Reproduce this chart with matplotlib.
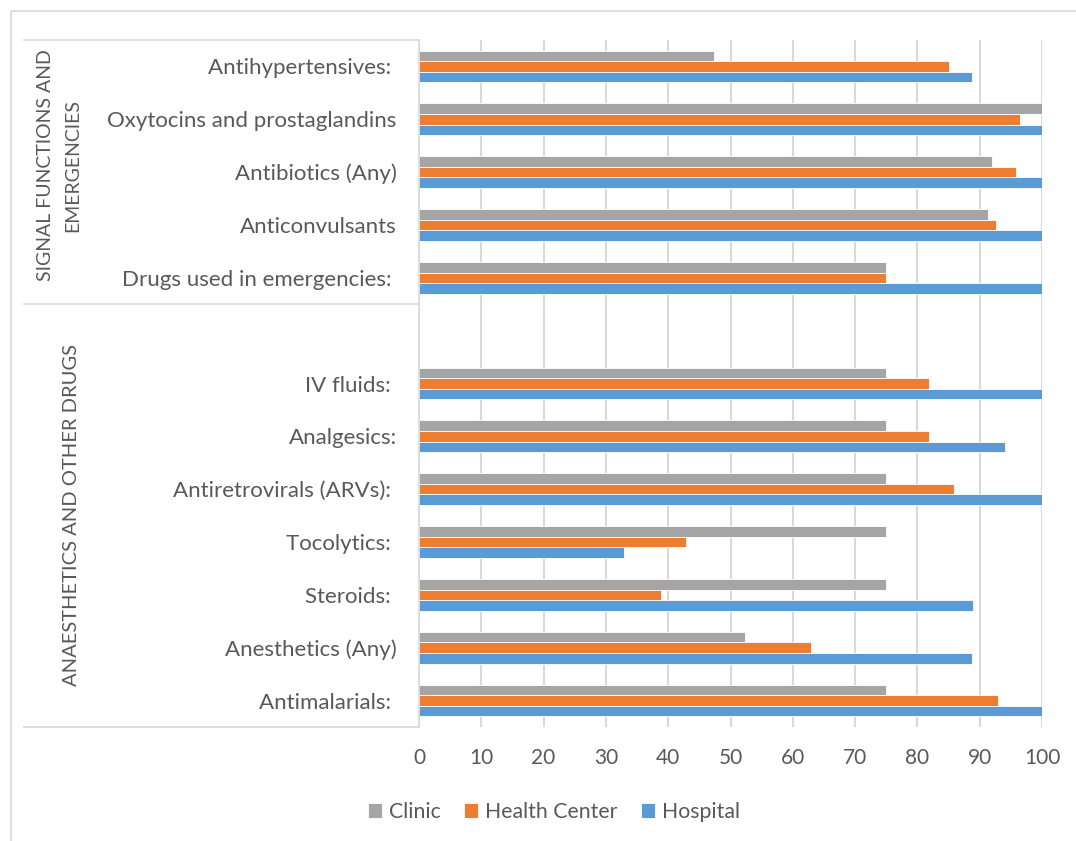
import numpy as np
import matplotlib.pyplot as plt
from matplotlib.lines import Line2D
from matplotlib.patches import Rectangle

plt.rcParams['font.family'] = ['Lato', 'DejaVu Sans']

# categories, listed top to bottom within each group
signal_drugs = ["Antihypertensives: ", "Oxytocins and prostaglandins", "Antibiotics (Any)",
                "Anticonvulsants", "Drugs used in emergencies: "]
other_drugs = ["IV fluids: ", "Analgesics:", "Antiretrovirals (ARVs): ", "Tocolytics: ",
               "Steroids: ", "Anesthetics (Any)", "Antimalarials: "]
group_names = ["SIGNAL FUNCTIONS AND\nEMERGENCIES", "ANAESTHETICS AND OTHER DRUGS"]

# percent of facilities with drug available
clinic = [47.4, 100, 91.9, 91.4, 75,
          75, 75, 75, 75, 75, 52.3, 75]
health_center = [85.1, 96.5, 95.9, 92.6, 75,
                 81.9, 81.9, 85.9, 42.9, 38.9, 62.9, 92.9]
hospital = [88.8, 100, 100, 100, 100,
            100, 94, 100, 32.9, 88.9, 88.8, 100]

series = [("Clinic", clinic, "#A5A5A5"),
          ("Health Center", health_center, "#ED7D31"),
          ("Hospital", hospital, "#5B9BD5")]

text_color = "#595959"
grid_color = "#D9D9D9"
W, H = 1076, 841

fig = plt.figure(figsize=(W / 100, H / 100), dpi=100)
ax = fig.add_axes([419 / W, 1 - 727 / H, 623 / W, 687 / H])

# one empty slot between the two groups
labels = signal_drugs + [""] + other_drugs
pos = np.array(list(range(len(signal_drugs))) +
               [len(signal_drugs) + 1 + i for i in range(len(other_drugs))])

bh = 0.2
for k, (name, vals, col) in enumerate(series):
    ax.barh(pos + (k - 1) * bh, vals, height=bh, color=col, label=name,
            edgecolor="white", linewidth=0.6, zorder=3)

ax.set_ylim(len(labels) - 0.5, -0.5)
ax.set_yticks(range(len(labels)))
ax.set_yticklabels(labels)
ax.set_xlim(0, 100)
ax.set_xticks(range(0, 101, 10))
ax.tick_params(axis="y", length=0, pad=16, labelsize=16, labelcolor=text_color)
ax.tick_params(axis="x", length=0, pad=15, labelsize=15, labelcolor=text_color)
ax.grid(axis="x", color=grid_color, linewidth=1.5, zorder=0)
for s in ["top", "right", "bottom"]:
    ax.spines[s].set_visible(False)
ax.spines["left"].set_color(grid_color)
ax.spines["left"].set_linewidth(1.2)
ax.spines["left"].set_zorder(4)

# multi-level category axis: group dividers and rotated group names
for yy in [40, 304, 727]:
    fig.add_artist(Line2D([24 / W, 418 / W], [1 - yy / H, 1 - yy / H],
                          color=grid_color, linewidth=1.2))
fig.text(59 / W, 1 - 165 / H, group_names[0], rotation=90, ha="center", va="center",
         fontsize=14, color=text_color, linespacing=1.75, multialignment="center")
fig.text(72 / W, 1 - 515 / H, group_names[1], rotation=90, ha="center", va="center",
         fontsize=14.5, color=text_color)

# chart area border
fig.add_artist(Rectangle((11 / W, -0.1), 1.2, 1 - 11 / H + 0.1, transform=fig.transFigure,
                         fill=False, edgecolor=grid_color, linewidth=1.2))

fig.legend(loc="center", bbox_to_anchor=(554 / W, 1 - 812 / H), ncol=3, frameon=False,
           fontsize=15.3, labelcolor=text_color, handlelength=0.66, handleheight=0.72,
           handletextpad=0.33, columnspacing=1.1)

fig.savefig("out.png", dpi=100)
